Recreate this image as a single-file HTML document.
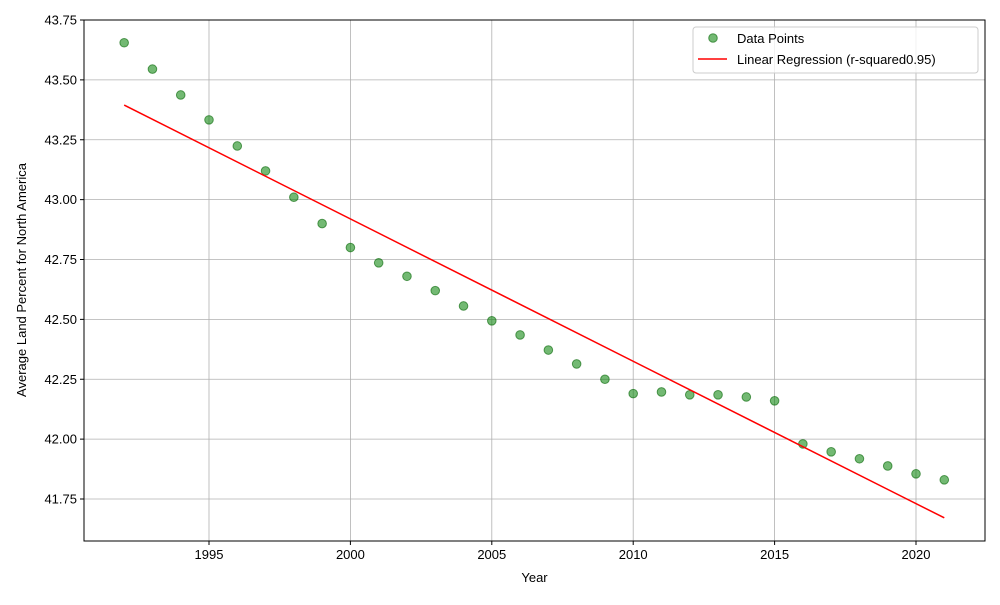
<!DOCTYPE html>
<html><head><meta charset="utf-8"><style>
body{margin:0;background:#fff;font-family:"Liberation Sans","DejaVu Sans",sans-serif;}
svg text{font-family:"Liberation Sans","DejaVu Sans",sans-serif;font-size:13px;fill:#000}
</style></head><body>
<svg id="chart" width="1000" height="600"></svg>
<script>
const years=[1992,1993,1994,1995,1996,1997,1998,1999,2000,2001,2002,2003,2004,2005,2006,2007,2008,2009,2010,2011,2012,2013,2014,2015,2016,2017,2018,2019,2020,2021];
const values=[43.655,43.545,43.437,43.333,43.224,43.12,43.01,42.90,42.80,42.736,42.68,42.62,42.556,42.494,42.435,42.372,42.314,42.25,42.19,42.197,42.185,42.185,42.176,42.16,41.98,41.947,41.918,41.888,41.855,41.83];
const xTicks=[1995,2000,2005,2010,2015,2020];
const yTicks=[41.75,42.00,42.25,42.50,42.75,43.00,43.25,43.50,43.75];
const NS="http://www.w3.org/2000/svg";
const svg=document.getElementById('chart');
const L=84,R=985,T=20,B=541;
function xs(v){return 209+(v-1995)*(916-209)/25;}
function ys(v){return 20+(43.75-v)*(499-20)/2;}
function mk(tag,attrs,parent){const e=document.createElementNS(NS,tag);for(const k in attrs)e.setAttribute(k,attrs[k]);(parent||svg).appendChild(e);return e;}
// grid
xTicks.forEach(t=>{
 const g=mk('line',{x1:xs(t),x2:xs(t),y1:T,y2:B,stroke:'#b0b0b0','stroke-width':0.8});
 
 
 const tk=mk('line',{x1:xs(t),x2:xs(t),y1:B,y2:B+4,stroke:'#000'});
 
 
 const tx=mk('text',{x:xs(t),y:B+18,'text-anchor':'middle'});tx.textContent=t;
 
 
});
yTicks.forEach(t=>{
 const g=mk('line',{x1:L,x2:R,y1:ys(t),y2:ys(t),stroke:'#b0b0b0','stroke-width':0.8});
 
 
 const tk=mk('line',{x1:L-4,x2:L,y1:ys(t),y2:ys(t),stroke:'#000'});
 
 
 const tx=mk('text',{x:L-7,y:ys(t)+4.5,'text-anchor':'end'});tx.textContent=t.toFixed(2);
 
 
});
// points
years.forEach((yr,i)=>{
 const c=mk('circle',{cx:xs(yr),cy:ys(values[i]),r:4.3,fill:'rgba(0,128,0,0.55)',stroke:'rgba(0,100,0,0.6)','stroke-width':1});
 
 
});
// regression
const n=years.length;let mx=0,my=0;years.forEach((x,i)=>{mx+=x;my+=values[i];});mx/=n;my/=n;
let sxy=0,sxx=0;years.forEach((x,i)=>{sxy+=(x-mx)*(values[i]-my);sxx+=(x-mx)*(x-mx);});
const slope=sxy/sxx,icpt=my-slope*mx;
const x0=years[0],x1=years[n-1];
const rl=mk('line',{x1:xs(x0),y1:ys(icpt+slope*x0),x2:xs(x1),y2:ys(icpt+slope*x1),stroke:'#ff0000','stroke-width':1.5});


// frame
const fr=mk('rect',{x:L,y:T,width:R-L,height:B-T,fill:'none',stroke:'#000','stroke-width':1});


const xt=mk('text',{x:(L+R)/2,y:582,'text-anchor':'middle'});xt.textContent='Year';


const yt=mk('text',{x:0,y:0,'text-anchor':'middle',transform:'translate(26,280) rotate(-90)'});yt.textContent='Average Land Percent for North America';


// legend
const lg=mk('g',{});


mk('rect',{x:693,y:27,width:285,height:46,rx:3,fill:'#fff','fill-opacity':0.8,stroke:'#ccc'},lg);
const l1=mk('circle',{cx:713,cy:38,r:4.3,fill:'rgba(0,128,0,0.55)',stroke:'rgba(0,100,0,0.6)'},lg);


const t1=mk('text',{x:737,y:43},lg);t1.textContent='Data Points';


const l2=mk('line',{x1:698,x2:727,y1:59,y2:59,stroke:'#ff0000','stroke-width':1.5},lg);


const t2=mk('text',{x:737,y:64},lg);t2.textContent='Linear Regression (r-squared0.95)';


</script>
</body></html>
